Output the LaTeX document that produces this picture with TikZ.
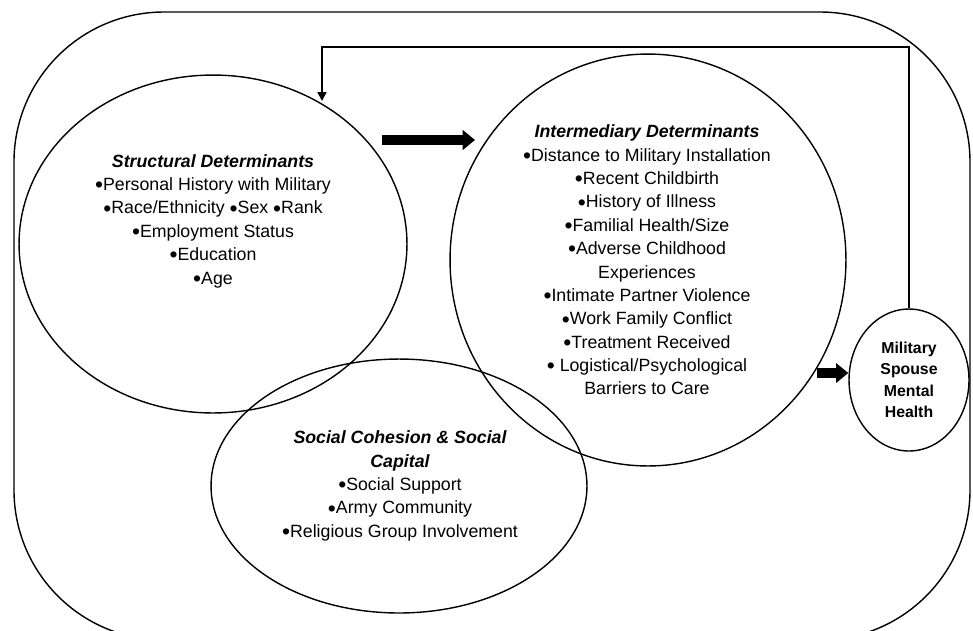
\documentclass[tikz,border=0pt]{standalone}
\usepackage{fontspec}
\setmainfont{Liberation Sans}
\usetikzlibrary{shapes.geometric,arrows.meta}
\newcommand{\bul}{\raisebox{-1.3pt}{\fontsize{13}{13}\selectfont •}}

\begin{document}
\begin{tikzpicture}[
  x=0.02cm, y=-0.02cm,
  blob/.style={ellipse, draw, line width=0.8pt, inner sep=0pt},
  txt/.style={align=center, font=\fontsize{10.1}{13.3}\selectfont},
  fat/.style={line width=5.2pt, -{Triangle[length=7pt,width=11pt]}},
  back/.style={line width=1.1pt, -{Triangle[length=5pt,width=5pt]}}
]
  \clip (0,0) rectangle (973,630);
  % outer frame
  \draw[line width=0.8pt, rounded corners=3cm] (14,12) rectangle (970,640);

  % ellipses
  \node[blob, minimum width=7.76cm, minimum height=6.76cm] (struct) at (213,244) {};
  \node[blob, minimum width=7.92cm, minimum height=8.24cm] (inter) at (648,260) {};
  \node[blob, minimum width=7.52cm, minimum height=5.08cm] (social) at (399,486) {};
  \node[blob, minimum width=2.4cm, minimum height=2.84cm, align=center,
        font=\bfseries\fontsize{9}{12.2}\selectfont] (health) at (909,380)
        {Military\\Spouse\\Mental\\Health};

  % texts
  \node[txt] (structtxt) at (213,221) {{\bfseries\itshape Structural Determinants}\\
    \bul Personal History with Military\\
    \bul Race/Ethnicity \bul Sex \bul Rank\\
    \bul Employment Status\\
    \bul Education\\
    \bul Age};
  \node[txt] (intertxt) at (647,260) {{\bfseries\itshape Intermediary Determinants}\\
    \bul Distance to Military Installation\\
    \bul Recent Childbirth\\
    \bul History of Illness\\
    \bul Familial Health/Size\\
    \bul Adverse Childhood\\
    Experiences\\
    \bul Intimate Partner Violence\\
    \bul Work Family Conflict\\
    \bul Treatment Received\\
    \bul{} Logistical/Psychological\\
    Barriers to Care};
  \node[txt] (socialtxt) at (400,486) {{\bfseries\itshape Social Cohesion \& Social}\\
    {\bfseries\itshape Capital}\\
    \bul Social Support\\
    \bul Army Community\\
    \bul Religious Group Involvement};

  % arrows
  \coordinate (s2i) at (382,140);
  \coordinate (s2iend) at (475,140);
  \draw[fat] (s2i) -- (s2iend);
  \coordinate (i2h) at (817,373);
  \draw[fat] (i2h) -- (i2h -| health.west);

  % feedback
  \coordinate (fbtop) at (322,47);
  \coordinate (fbtip) at (322,101);
  \draw[back] (health.north) |- (fbtop) -- (fbtip);
\end{tikzpicture}
\end{document}
